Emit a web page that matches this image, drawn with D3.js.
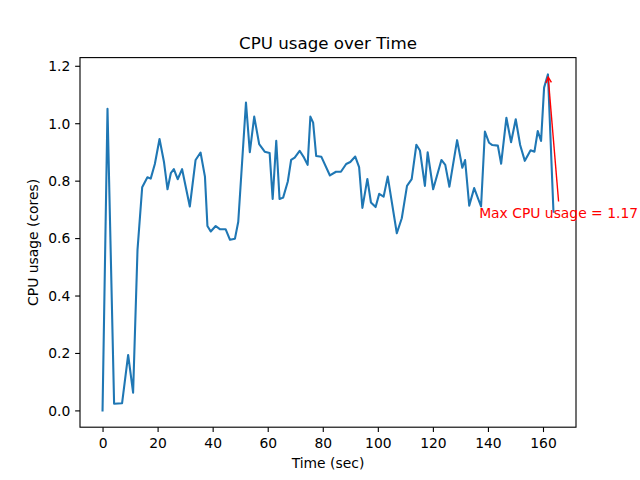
<!DOCTYPE html>
<html>
<head>
<meta charset="utf-8">
<script src="https://cdn.jsdelivr.net/npm/d3@7"></script>
<style>
  html, body { margin: 0; padding: 0; background: #fff; }
  text { font-family: "DejaVu Sans", sans-serif; }
</style>
</head>
<body>
<svg id="chart" width="640" height="480"></svg>
<script>
// ---- data ----
const timeSec = [
  0, 1.8, 4.2, 7.1, 9.3, 11.1, 12.7, 14.4, 16.3, 17.5,
  19.0, 20.7, 22.3, 23.6, 24.8, 25.9, 27.3, 28.9, 31.7, 33.8,
  35.6, 37.2, 38.1, 39.3, 41.1, 42.6, 44.7, 46.3, 48.1, 49.3,
  52.1, 53.5, 55.1, 56.9, 58.9, 60.7, 61.8, 63.1, 64.3, 65.6,
  67.3, 68.5, 69.8, 71.6, 73.2, 74.5, 75.5, 76.5, 77.6, 79.5,
  82.6, 84.8, 86.6, 88.5, 90.0, 91.8, 93.2, 94.4, 96.2, 97.5,
  99.2, 100.5, 102.1, 103.6, 106.9, 108.7, 110.6, 112.3, 114.0, 115.3,
  117.1, 118.1, 120.1, 123.1, 124.5, 126.0, 128.8, 130.7, 131.7, 133.2,
  135.0, 137.5, 138.9, 140.4, 141.6, 143.6, 144.8, 146.7, 148.4, 150.1,
  151.7, 153.4, 155.5, 156.9, 158.1, 159.3, 160.4, 161.8, 163.8
];
const cpuCores = [
  0.000, 1.050, 0.023, 0.025, 0.193, 0.062, 0.559, 0.777, 0.812, 0.807,
  0.858, 0.945, 0.866, 0.770, 0.826, 0.840, 0.805, 0.840, 0.710, 0.872,
  0.898, 0.814, 0.642, 0.623, 0.642, 0.631, 0.631, 0.594, 0.598, 0.657,
  1.072, 0.899, 1.023, 0.927, 0.901, 0.896, 0.736, 0.939, 0.736, 0.741,
  0.797, 0.872, 0.880, 0.904, 0.880, 0.855, 1.023, 1.002, 0.886, 0.883,
  0.818, 0.831, 0.831, 0.858, 0.865, 0.884, 0.847, 0.705, 0.806, 0.724,
  0.708, 0.754, 0.744, 0.814, 0.617, 0.669, 0.782, 0.805, 0.925, 0.905,
  0.782, 0.899, 0.770, 0.872, 0.855, 0.779, 0.941, 0.845, 0.872, 0.713,
  0.774, 0.710, 0.971, 0.932, 0.924, 0.922, 0.859, 1.019, 0.934, 1.014,
  0.924, 0.869, 0.906, 0.901, 0.973, 0.938, 1.124, 1.170, 0.692
];
const xTicks = [0, 20, 40, 60, 80, 100, 120, 140, 160];
const yTicks = [0.0, 0.2, 0.4, 0.6, 0.8, 1.0, 1.2];
const titleText = "CPU usage over Time";
const xLabelText = "Time (sec)";
const yLabelText = "CPU usage (cores)";

// ---- layout ----
const PT = 100 / 72; // px per point
const plotL = 80, plotR = 576, plotT = 57.6, plotB = 427.2;
const svg = d3.select("#chart");

const xMin = d3.min(timeSec), xMax = d3.max(timeSec);
const yMin = d3.min(cpuCores), yMax = d3.max(cpuCores);
const xPad = (xMax - xMin) * 0.05, yPad = (yMax - yMin) * 0.05;
const x = d3.scaleLinear().domain([xMin - xPad, xMax + xPad]).range([plotL, plotR]);
const y = d3.scaleLinear().domain([yMin - yPad, yMax + yPad]).range([plotB, plotT]);

const data = timeSec.map((t, i) => ({t, v: cpuCores[i]}));

// line
svg.append("path")
  .datum(data)
  .attr("fill", "none")
  .attr("stroke", "#1f77b4")
  .attr("stroke-width", 1.5 * PT)
  .attr("stroke-linejoin", "round")
  .attr("stroke-linecap", "square")
  .attr("d", d3.line().x(d => x(d.t)).y(d => y(d.v)));

// axes
const tickLen = 3.5 * PT, tickPad = 3.5 * PT;
const fs = 10 * PT;
const xAxis = svg.append("g")
  .attr("transform", `translate(0,${plotB})`)
  .call(d3.axisBottom(x).tickValues(xTicks).tickFormat(d3.format("d"))
        .tickSize(tickLen).tickPadding(tickPad).tickSizeOuter(0));
const yAxis = svg.append("g")
  .attr("transform", `translate(${plotL},0)`)
  .call(d3.axisLeft(y).tickValues(yTicks).tickFormat(d3.format(".1f"))
        .tickSize(tickLen).tickPadding(tickPad).tickSizeOuter(0));
[xAxis, yAxis].forEach(g => {
  g.select(".domain").remove();
  g.selectAll(".tick line").attr("stroke", "#000").attr("stroke-width", 0.8 * PT);
  g.selectAll(".tick text").attr("fill", "#000")
    .style("font-family", "'DejaVu Sans', sans-serif").style("font-size", fs + "px");
});
xAxis.selectAll(".tick text").attr("y", 20.6).attr("dy", 0);
yAxis.selectAll(".tick text").attr("dy", "0.35em");

// frame (spines)
svg.append("rect")
  .attr("x", plotL).attr("y", plotT)
  .attr("width", plotR - plotL).attr("height", plotB - plotT)
  .attr("fill", "none").attr("stroke", "#000").attr("stroke-width", 0.8 * PT);

// title and labels
svg.append("text")
  .attr("x", (plotL + plotR) / 2).attr("y", plotT - 6 * PT)
  .attr("text-anchor", "middle")
  .style("font-size", (12 * PT) + "px").attr("fill", "#000")
  .text(titleText);
svg.append("text")
  .attr("x", (plotL + plotR) / 2).attr("y", 468)
  .attr("text-anchor", "middle")
  .style("font-size", fs + "px").attr("fill", "#000")
  .text(xLabelText);
svg.append("text")
  .attr("transform", `translate(38,${(plotT + plotB) / 2}) rotate(-90)`)
  .attr("text-anchor", "middle")
  .style("font-size", fs + "px").attr("fill", "#000")
  .text(yLabelText);

// annotation of max
const iMax = d3.maxIndex(cpuCores);
const maxT = timeSec[iMax], maxV = cpuCores[iMax];
const tx = x(maxT - 25), ty = y(maxV - 0.5);
const label = svg.append("text")
  .attr("x", tx).attr("y", ty)
  .style("font-size", fs + "px").attr("fill", "red")
  .text("Max CPU usage = " + maxV.toFixed(2));
const tw = label.node().getComputedTextLength();
const tailX = tx + tw / 2, tailY = ty - 16.5;
const px = x(maxT), py = y(maxV);
const ddx = px - tailX, ddy = py - tailY;
const len = Math.hypot(ddx, ddy);
const ux = ddx / len, uy = ddy / len;
const headX = px - ux * 2 * PT, headY = py - uy * 2 * PT;
svg.append("line")
  .attr("x1", tailX).attr("y1", tailY).attr("x2", headX).attr("y2", headY)
  .attr("stroke", "red").attr("stroke-width", PT);
const hl = 4 * PT, hw = 2 * PT;
const bx = headX - ux * hl, by = headY - uy * hl;
svg.append("path")
  .attr("d", `M${bx - uy * hw},${by + ux * hw}L${headX},${headY}L${bx + uy * hw},${by - ux * hw}`)
  .attr("fill", "none").attr("stroke", "red").attr("stroke-width", PT);
</script>
</body>
</html>
